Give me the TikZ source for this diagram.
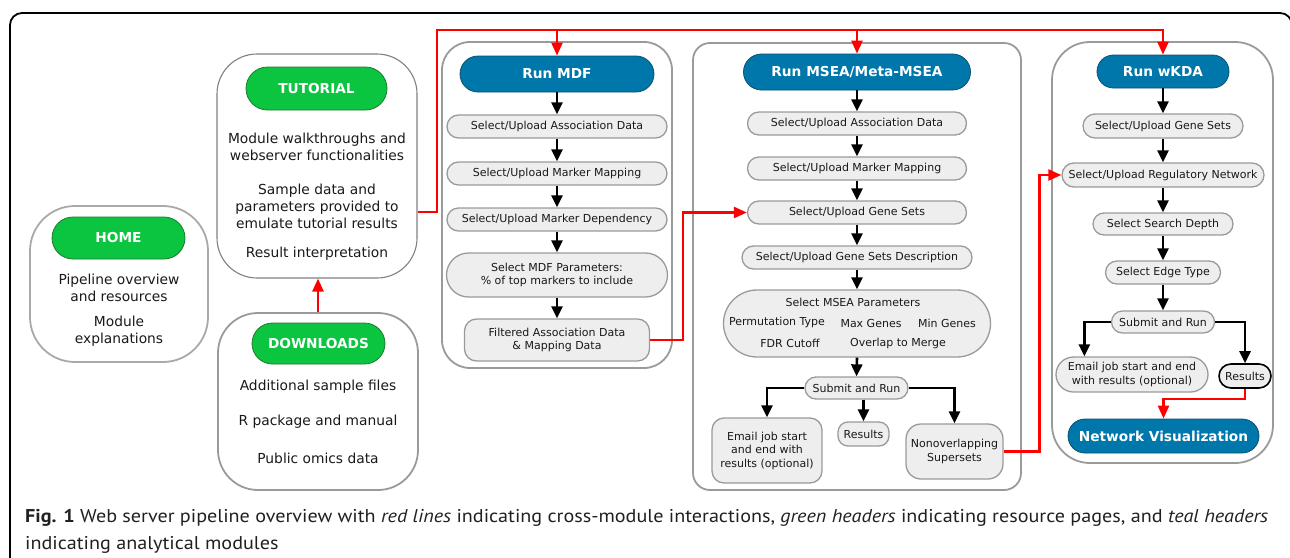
\documentclass[tikz,border=0pt]{standalone}
\usepackage{fontspec}
\setmainfont{DejaVu Sans}
\newfontfamily\capfont{PT Sans}
\usetikzlibrary{arrows.meta,calc}
\definecolor{grn}{HTML}{0BC43F}
\definecolor{grnb}{HTML}{1E7A2E}
\definecolor{tealc}{HTML}{0077AA}
\definecolor{tealb}{HTML}{0B4F6E}
\definecolor{boxg}{HTML}{9A9A9A}
\definecolor{fillg}{HTML}{EEEEEE}
\definecolor{capc}{HTML}{231F20}
\newsavebox\capboxA
\begin{document}
\begin{tikzpicture}[x=1pt,y=-1pt,
  container/.style={draw=boxg, line width=1.8pt, rounded corners=#1, inner sep=0pt},
  ghdr/.style={fill=grn, draw=grnb, line width=0.8pt, text=white, inner sep=0pt,
    font=\bfseries\fontsize{13.7}{16}\selectfont},
  thdr/.style={fill=tealc, draw=tealb, line width=0.8pt, text=white, inner sep=0pt,
    font=\bfseries\fontsize{13.7}{16}\selectfont},
  bodytext/.style={align=center, inner sep=0pt, font=\fontsize{13.8}{17}\selectfont, text=black!90},
  stepnode/.style={draw=boxg, fill=fillg, line width=1.3pt, inner sep=0pt, align=center,
    font=\fontsize{11}{13.5}\selectfont, text=black!90},
  steptext/.style={inner sep=0pt, align=center, font=\fontsize{11}{13.5}\selectfont, text=black!90},
  blk/.style={line width=2.6pt, -{Triangle[length=12pt,width=11pt]}},
  reda/.style={draw=red, line width=2.5pt, -{Triangle[length=13pt,width=11pt]}, color=red}
]
\useasboundingbox (0,0) rectangle (1290,557);
% outer frame
\draw[line width=1.8pt, rounded corners=12pt] (10,570) -- (10,13) -- (1292,13) -- (1292,570);

% containers
\node[container=45pt, draw=boxg!85, minimum width=178pt, minimum height=156pt] (homebox) at (119,284) {};
\node[container=40pt, draw=gray, line width=1.1pt, minimum width=200pt, minimum height=224pt] (tutbox) at (317,166) {};
\node[container=40pt, minimum width=200pt, minimum height=177pt] (dlbox) at (318,401.5) {};
\node[container=28pt, minimum width=230pt, minimum height=326pt] (mdfbox) at (557,205) {};
\node[container=17pt, minimum width=328pt, minimum height=447pt] (mseabox) at (857,266.5) {};
\node[container=38pt, minimum width=221pt, minimum height=421pt] (wkdabox) at (1162.5,252.5) {};

% green headers
\node[ghdr, minimum width=133pt, minimum height=42pt, rounded corners=21pt] (home) at (118.5,238) {HOME};
\node[ghdr, minimum width=141pt, minimum height=43pt, rounded corners=21.5pt] (tut) at (316.5,88.5) {TUTORIAL};
\node[ghdr, minimum width=133pt, minimum height=41pt, rounded corners=20.5pt] (dl) at (318.5,343.5) {DOWNLOADS};

% resource texts
\node[bodytext] (hometA) at (119,288) {Pipeline overview\\and resources};
\node[bodytext] (hometB) at (119,331.5) {Module\\explanations};
\node[bodytext] (tuttA) at (317,146.5) {Module walkthroughs and\\webserver functionalities};
\node[bodytext] (tuttB) at (317,206) {Sample data and\\parameters provided to\\emulate tutorial results};
\node[bodytext] (tuttC) at (317,254) {Result interpretation};
\node[bodytext] (dltA) at (318,387) {Additional sample files};
\node[bodytext] (dltB) at (318,422) {R package and manual};
\node[bodytext] (dltC) at (318,458) {Public omics data};

% MDF column
\node[thdr, minimum width=194pt, minimum height=36pt, rounded corners=18pt] (runmdf) at (557,74) {Run MDF};
\node[stepnode, minimum width=220pt, minimum height=23pt, rounded corners=11.5pt] (mdf1) at (557,126.5) {Select/Upload Association Data};
\node[stepnode, minimum width=220pt, minimum height=23pt, rounded corners=11.5pt] (mdf2) at (557,173.5) {Select/Upload Marker Mapping};
\node[stepnode, minimum width=220pt, minimum height=23pt, rounded corners=11.5pt] (mdf3) at (557,219.5) {Select/Upload Marker Dependency};
\node[stepnode, minimum width=221pt, minimum height=44pt, rounded corners=22pt] (mdf4) at (557,275) {Select MDF Parameters:\\\% of top markers to include};
\node[stepnode, minimum width=185pt, minimum height=42pt, rounded corners=12pt] (mdf5) at (557,340) {Filtered Association Data\\\& Mapping Data};
\draw[blk] (runmdf.south) -- (mdf1.north);
\draw[blk] (mdf1.south) -- (mdf2.north);
\draw[blk] (mdf2.south) -- (mdf3.north);
\draw[blk] (mdf3.south) -- (mdf4.north);
\draw[blk] (mdf4.south) -- (mdf5.north);

% MSEA column
\node[thdr, minimum width=227pt, minimum height=36pt, rounded corners=18pt] (runmsea) at (857,72) {Run MSEA/Meta-MSEA};
\node[stepnode, minimum width=219pt, minimum height=23pt, rounded corners=11.5pt] (ms1) at (857,123.5) {Select/Upload Association Data};
\node[stepnode, minimum width=219pt, minimum height=23pt, rounded corners=11.5pt] (ms2) at (857,168.5) {Select/Upload Marker Mapping};
\node[stepnode, minimum width=219pt, minimum height=23pt, rounded corners=11.5pt] (ms3) at (857,212.5) {Select/Upload Gene Sets};
\node[stepnode, minimum width=230pt, minimum height=23pt, rounded corners=11.5pt] (ms4) at (857,257.5) {Select/Upload Gene Sets Description};
\node[stepnode, minimum width=267pt, minimum height=67pt, rounded corners=33.5pt] (ms5) at (857,323.5) {};
\node[steptext] (ms5a) at (853,302) {Select MSEA Parameters};
\node[steptext] (ms5b) at (777,322) {Permutation Type};
\node[steptext] (ms5c) at (871,323) {Max Genes};
\node[steptext] (ms5d) at (947,323) {Min Genes};
\node[steptext] (ms5e) at (790,343) {FDR Cutoff};
\node[steptext] (ms5f) at (898,343) {Overlap to Merge};
\node[stepnode, minimum width=103pt, minimum height=22pt, rounded corners=11pt] (ms6) at (856.5,388) {Submit and Run};
\node[stepnode, minimum width=110pt, minimum height=65pt, rounded corners=12pt] (ms7) at (767,450.5) {Email job start\\and end with\\results (optional)};
\node[stepnode, minimum width=51pt, minimum height=24pt, rounded corners=10pt] (ms8) at (863.5,434) {Results};
\node[stepnode, minimum width=97pt, minimum height=55pt, rounded corners=15pt] (ms9) at (954.5,451.5) {Nonoverlapping\\Supersets};
\draw[blk] (runmsea.south) -- (ms1.north);
\draw[blk] (ms1.south) -- (ms2.north);
\draw[blk] (ms2.south) -- (ms3.north);
\draw[blk] (ms3.south) -- (ms4.north);
\draw[blk] (ms4.south) -- (ms5.north);
\draw[blk] (ms5.south) -- (ms6.north);
\draw[blk] (ms6.west) -| (ms7.north);
\draw[blk] (ms8.north |- ms6.south) -- (ms8.north);
\draw[blk] (ms6.east) -| (ms9.north);

% wKDA column
\node[thdr, minimum width=132pt, minimum height=33pt, rounded corners=16.5pt] (runwkda) at (1163,71.5) {Run wKDA};
\node[stepnode, minimum width=160pt, minimum height=24pt, rounded corners=12pt] (wk1) at (1163,126) {Select/Upload Gene Sets};
\node[stepnode, minimum width=202pt, minimum height=24pt, rounded corners=12pt] (wk2) at (1163,175) {Select/Upload Regulatory Network};
\node[stepnode, minimum width=140pt, minimum height=22pt, rounded corners=11pt] (wk3) at (1163,224) {Select Search Depth};
\node[stepnode, minimum width=115pt, minimum height=23pt, rounded corners=11.5pt] (wk4) at (1163,272.5) {Select Edge Type};
\node[stepnode, minimum width=103pt, minimum height=22pt, rounded corners=11pt] (wk5) at (1163,322) {Submit and Run};
\node[stepnode, minimum width=152pt, minimum height=35pt, rounded corners=17.5pt] (wk6) at (1132,374.5) {Email job start and end\\with results (optional)};
\node[stepnode, draw=black, line width=1.6pt, minimum width=52pt, minimum height=24pt, rounded corners=12pt] (wk7) at (1245,376) {Results};
\node[thdr, minimum width=191pt, minimum height=34pt, rounded corners=17pt] (netvis) at (1163.5,436) {Network Visualization};
\draw[blk] (runwkda.south) -- (wk1.north);
\draw[blk] (wk1.south) -- (wk2.north);
\draw[blk] (wk2.south) -- (wk3.north);
\draw[blk] (wk3.south) -- (wk4.north);
\draw[blk] (wk4.south) -- (wk5.north);
\coordinate (wk6top) at ([xshift=29pt]wk6.north west);
\draw[blk] (wk5.west) -| (wk6top);
\draw[blk] (wk5.east) -| (wk7.north);

% red cross-module connectors
\coordinate (topL) at (437,30);
\draw[reda] ([yshift=-46pt]tutbox.east) -| (topL) -- (runwkda.north |- topL) -- (runwkda.north);
\draw[reda] (runmdf.north |- topL) -- (runmdf.north);
\draw[reda] (runmsea.north |- topL) -- (runmsea.north);
\draw[reda] (dlbox.north) -- (dlbox.north |- tutbox.south);
\draw[reda] (mdf5.east) -- ++(33,0) |- (ms3.west);
\draw[reda] (ms9.east) -- ++(36,0) |- (wk2.west);
\draw[reda] (wk7.south) -- ++(0,10) -| (netvis.north);

% caption
\node[anchor=base west, inner sep=0pt] (cap1) at (25,522) {\sbox\capboxA{\capfont\fontsize{18.5}{22}\selectfont\color{capc}\textbf{Fig. 1} Web server pipeline overview with \textit{red lines} indicating cross-module interactions, \textit{green headers} indicating resource pages, and \textit{teal headers}}%
\pgfmathsetmacro\capsx{1243/\the\wd\capboxA}\xdef\capsxg{\capsx}%
\scalebox{\capsx}[1]{\usebox\capboxA}};
\node[anchor=base west, inner sep=0pt, text=capc] (cap2) at (25,549) {\scalebox{\capsxg}[1]{\capfont\fontsize{18.5}{22}\selectfont indicating analytical modules}};
\end{tikzpicture}
\end{document}
